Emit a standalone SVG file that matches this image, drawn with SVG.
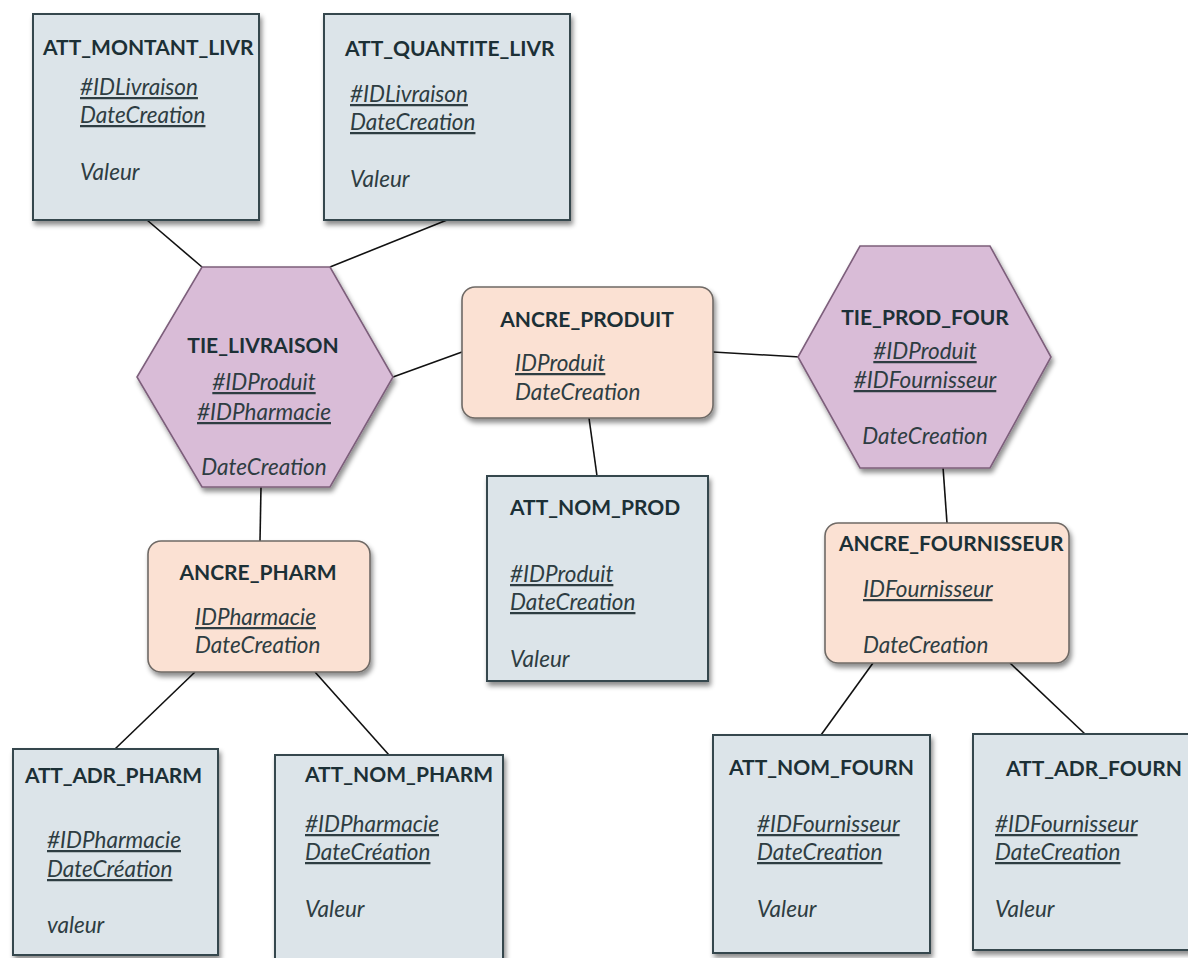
<svg xmlns="http://www.w3.org/2000/svg" width="1188" height="958" viewBox="0 0 1188 958">
  <defs>
    <filter id="shadow" x="-10%" y="-10%" width="125%" height="125%">
      <feDropShadow dx="2" dy="4" stdDeviation="2.5" flood-color="#000" flood-opacity="0.45"/>
    </filter>
    <style>
      .att { fill: #dce4e9; stroke: #36474d; stroke-width: 2; filter: url(#shadow); }
      .anc { fill: #fbe1d3; stroke: #6f6a66; stroke-width: 1.6; filter: url(#shadow); }
      .tie { fill: #d9bcd7; stroke: #7d5f7b; stroke-width: 1.6; filter: url(#shadow); }
      .title { font-family: Lato, "Open Sans", "Liberation Sans", sans-serif; font-weight: bold; font-size: 21px; fill: #1c3036; }
      .field { font-family: Lato, "Open Sans", "Liberation Sans", sans-serif; font-style: italic; font-size: 22.5px; fill: #2e3d42; }
      .key { text-decoration: underline; }
      .mid { text-anchor: middle; }
      .link { stroke: #111; stroke-width: 1.6; fill: none; }
    </style>
  </defs>

  <rect width="1188" height="958" fill="#ffffff"/>

  <!-- connectors -->
  <g id="connectors">
    <line class="link" x1="147" y1="220" x2="202" y2="267"/>
    <line class="link" x1="447" y1="220" x2="330" y2="267"/>
    <line class="link" x1="393" y1="377" x2="462" y2="352"/>
    <line class="link" x1="713" y1="352" x2="800" y2="357"/>
    <line class="link" x1="261" y1="487" x2="260" y2="541"/>
    <line class="link" x1="589" y1="418" x2="597" y2="476"/>
    <line class="link" x1="943" y1="467" x2="947" y2="523"/>
    <line class="link" x1="195" y1="672" x2="115" y2="749"/>
    <line class="link" x1="315" y1="672" x2="389" y2="755"/>
    <line class="link" x1="873" y1="663" x2="821" y2="735"/>
    <line class="link" x1="1010" y1="663" x2="1085" y2="734"/>
  </g>

  <!-- attribute: montant livraison -->
  <g id="att_montant_livr">
    <rect class="att" x="33" y="14" width="226" height="206"/>
    <text class="title" x="43" y="55">ATT_MONTANT_LIVR</text>
    <text class="field key" x="80" y="95">#IDLivraison</text>
    <text class="field key" x="80" y="123">DateCreation</text>
    <text class="field" x="80" y="180">Valeur</text>
  </g>

  <!-- attribute: quantite livraison -->
  <g id="att_quantite_livr">
    <rect class="att" x="324" y="14" width="246" height="206"/>
    <text class="title" x="345" y="56">ATT_QUANTITE_LIVR</text>
    <text class="field key" x="350" y="102">#IDLivraison</text>
    <text class="field key" x="350" y="130">DateCreation</text>
    <text class="field" x="350" y="187">Valeur</text>
  </g>

  <!-- tie: livraison -->
  <g id="tie_livraison">
    <polygon class="tie" points="202,267 330,267 393,377 330,487 202,487 137,377"/>
    <text class="title mid" x="263" y="353">TIE_LIVRAISON</text>
    <text class="field key mid" x="264" y="390">#IDProduit</text>
    <text class="field key mid" x="264" y="420">#IDPharmacie</text>
    <text class="field mid" x="264" y="475">DateCreation</text>
  </g>

  <!-- anchor: produit -->
  <g id="ancre_produit">
    <rect class="anc" x="462" y="287" width="251" height="131" rx="13"/>
    <text class="title mid" x="587" y="327">ANCRE_PRODUIT</text>
    <text class="field key" x="515" y="371">IDProduit</text>
    <text class="field" x="515" y="400">DateCreation</text>
  </g>

  <!-- tie: produit / fournisseur -->
  <g id="tie_prod_four">
    <polygon class="tie" points="860,246 990,246 1051,357 990,468 860,468 798,357"/>
    <text class="title mid" x="925" y="325">TIE_PROD_FOUR</text>
    <text class="field key mid" x="925" y="359">#IDProduit</text>
    <text class="field key mid" x="925" y="388">#IDFournisseur</text>
    <text class="field mid" x="925" y="444">DateCreation</text>
  </g>

  <!-- attribute: nom produit -->
  <g id="att_nom_prod">
    <rect class="att" x="487" y="476" width="221" height="205"/>
    <text class="title" x="510" y="515">ATT_NOM_PROD</text>
    <text class="field key" x="510" y="582">#IDProduit</text>
    <text class="field key" x="510" y="610">DateCreation</text>
    <text class="field" x="510" y="667">Valeur</text>
  </g>

  <!-- anchor: pharmacie -->
  <g id="ancre_pharm">
    <rect class="anc" x="148" y="541" width="222" height="131" rx="13"/>
    <text class="title mid" x="258" y="580">ANCRE_PHARM</text>
    <text class="field key" x="195" y="625">IDPharmacie</text>
    <text class="field" x="195" y="653">DateCreation</text>
  </g>

  <!-- anchor: fournisseur -->
  <g id="ancre_fournisseur">
    <rect class="anc" x="825" y="523" width="244" height="140" rx="13"/>
    <text class="title" x="839" y="551">ANCRE_FOURNISSEUR</text>
    <text class="field key" x="863" y="597">IDFournisseur</text>
    <text class="field" x="863" y="653">DateCreation</text>
  </g>

  <!-- attribute: adresse pharmacie -->
  <g id="att_adr_pharm">
    <rect class="att" x="13" y="749" width="205" height="206"/>
    <text class="title" x="25" y="783" textLength="177" lengthAdjust="spacing">ATT_ADR_PHARM</text>
    <text class="field key" x="47" y="848">#IDPharmacie</text>
    <text class="field key" x="47" y="877">DateCréation</text>
    <text class="field" x="47" y="933">valeur</text>
  </g>

  <!-- attribute: nom pharmacie -->
  <g id="att_nom_pharm">
    <rect class="att" x="275" y="755" width="228" height="210"/>
    <text class="title" x="305" y="782">ATT_NOM_PHARM</text>
    <text class="field key" x="305" y="832">#IDPharmacie</text>
    <text class="field key" x="305" y="860">DateCréation</text>
    <text class="field" x="305" y="917">Valeur</text>
  </g>

  <!-- attribute: nom fournisseur -->
  <g id="att_nom_fourn">
    <rect class="att" x="713" y="735" width="217" height="218"/>
    <text class="title" x="729" y="775">ATT_NOM_FOURN</text>
    <text class="field key" x="757" y="832">#IDFournisseur</text>
    <text class="field key" x="757" y="860">DateCreation</text>
    <text class="field" x="757" y="917">Valeur</text>
  </g>

  <!-- attribute: adresse fournisseur -->
  <g id="att_adr_fourn">
    <rect class="att" x="973" y="734" width="224" height="216"/>
    <text class="title" x="1006" y="776">ATT_ADR_FOURN</text>
    <text class="field key" x="995" y="832">#IDFournisseur</text>
    <text class="field key" x="995" y="860">DateCreation</text>
    <text class="field" x="995" y="917">Valeur</text>
  </g>
</svg>
